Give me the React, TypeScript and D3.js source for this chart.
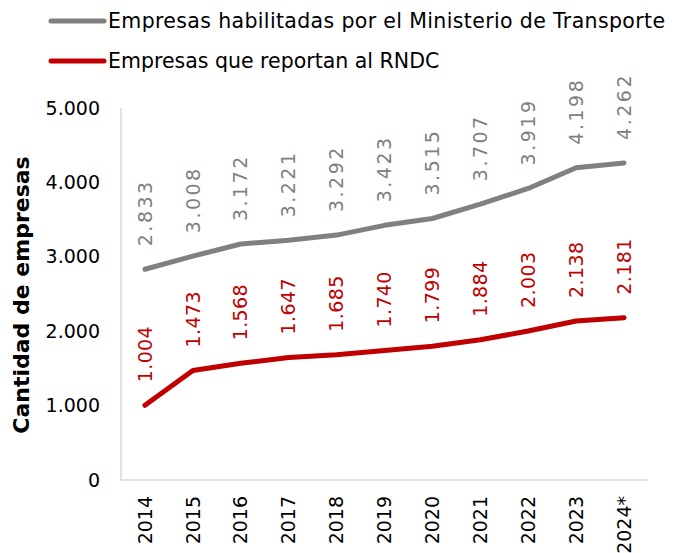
import React from "react";
import * as d3 from "d3";

const years = ["2014", "2015", "2016", "2017", "2018", "2019", "2020", "2021", "2022", "2023", "2024*"];
const habilitadas = [2833, 3008, 3172, 3221, 3292, 3423, 3515, 3707, 3919, 4198, 4262];
const reportan = [1004, 1473, 1568, 1647, 1685, 1740, 1799, 1884, 2003, 2138, 2181];
const yTicks = [0, 1000, 2000, 3000, 4000, 5000];
const seriesNames = ["Empresas habilitadas por el Ministerio de Transporte", "Empresas que reportan al RNDC"];

const W = 675;
const H = 553;
const FONT = "'DejaVu Sans', Verdana, sans-serif";
const fmt = (v: number) => d3.format(",")(v).replace(/,/g, ".");

export default function App() {
  const x = d3.scaleBand<string>().domain(years).range([121, 648]);
  const y = d3.scaleLinear().domain([0, 5000]).range([480, 108]);
  const cx = (d: string) => (x(d) as number) + x.bandwidth() / 2;
  const line = d3
    .line<number>()
    .x((_, i) => cx(years[i]))
    .y((v) => y(v));

  const series = [
    { name: seriesNames[0], values: habilitadas, color: "#808080", ls: 2.5 },
    { name: seriesNames[1], values: reportan, color: "#c00000", ls: 0.4 },
  ];

  return (
    <svg width={W} height={H} style={{ position: "absolute", left: 0, top: 0, background: "#fff" }} fontFamily={FONT}>
      {/* legend */}
      {series.map((s, i) => (
        <g key={s.name} transform={`translate(0, ${21 + i * 40})`}>
          <line x1={51} x2={104} y1={0} y2={0} stroke={s.color} strokeWidth={5} strokeLinecap="round" />
          <text x={108} y={0} dy="0.35em" fontSize={20.5} fill="#000" textLength={i === 0 ? 557 : undefined}>
            {s.name}
          </text>
        </g>
      ))}

      {/* axes */}
      <line x1={121} x2={121} y1={108} y2={480} stroke="#d9d9d9" strokeWidth={1.5} />
      <line x1={121} x2={648} y1={480} y2={480} stroke="#d9d9d9" strokeWidth={1.5} />

      {yTicks.map((t) => (
        <text key={t} x={100} y={y(t)} dy="0.35em" textAnchor="end" fontSize={19} fill="#000">
          {fmt(t)}
        </text>
      ))}

      {years.map((yr) => (
        <text
          key={yr}
          transform={`translate(${cx(yr)}, 496) rotate(-90)`}
          dy="0.35em"
          textAnchor="end"
          fontSize={19}
          fill="#000"
        >
          {yr}
        </text>
      ))}

      <text
        transform="translate(21, 295) rotate(-90)"
        textAnchor="middle"
        dy="0.35em"
        fontSize={22}
        fontWeight="bold"
        fill="#000"
      >
        Cantidad de empresas
      </text>

      {series.map((s) => (
        <g key={s.name}>
          <path d={line(s.values) || ""} fill="none" stroke={s.color} strokeWidth={5} strokeLinecap="round" strokeLinejoin="round" />
          {s.values.map((v, i) => (
            <text
              key={i}
              transform={`translate(${cx(years[i])}, ${y(v) - 23}) rotate(-90)`}
              dy="0.35em"
              textAnchor="start"
              fontSize={19}
              letterSpacing={s.ls}
              fill={s.color}
            >
              {fmt(v)}
            </text>
          ))}
        </g>
      ))}
    </svg>
  );
}
